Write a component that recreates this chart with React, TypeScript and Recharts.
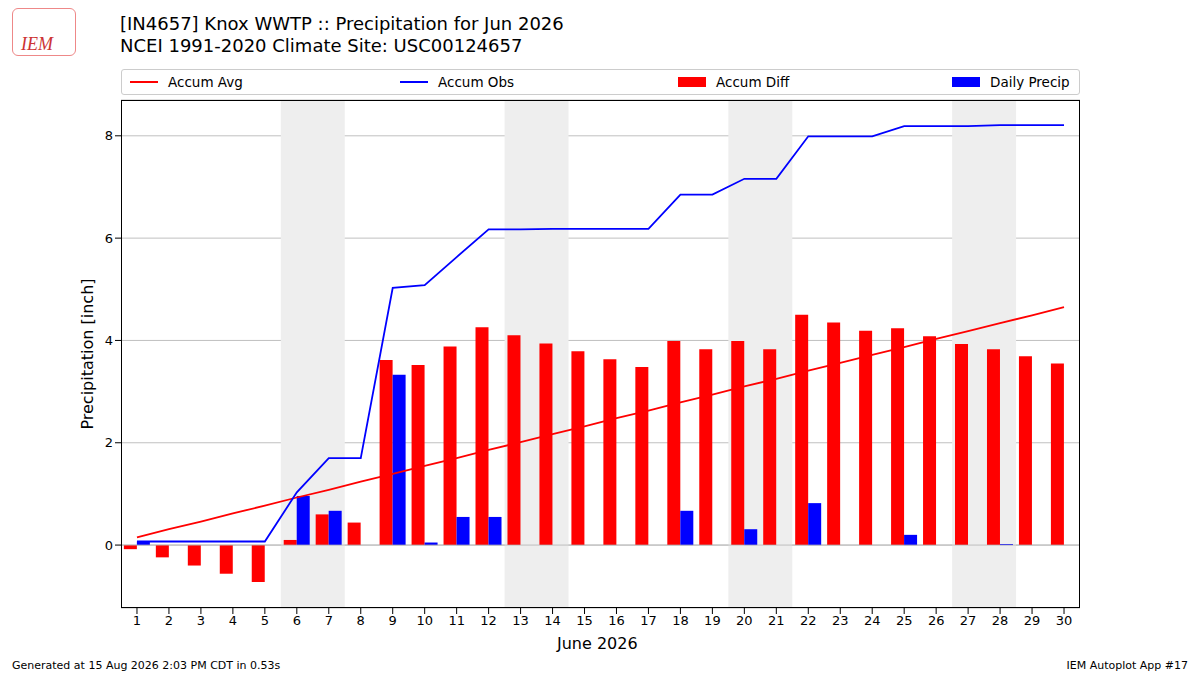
import { ComposedChart, Bar, Line, XAxis, YAxis, CartesianGrid, ReferenceArea, ReferenceLine } from 'recharts';

const days = Array.from({ length: 30 }, (_, i) => i + 1);
const accumAvg = [0.15, 0.31, 0.46, 0.62, 0.77, 0.93, 1.08, 1.24, 1.39, 1.55, 1.70, 1.86, 2.01, 2.17, 2.32, 2.48, 2.63, 2.79, 2.94, 3.10, 3.25, 3.41, 3.56, 3.72, 3.87, 4.03, 4.18, 4.34, 4.49, 4.65];
const accumObs = [0.07, 0.07, 0.07, 0.07, 0.07, 1.03, 1.70, 1.70, 5.03, 5.08, 5.63, 6.17, 6.17, 6.18, 6.18, 6.18, 6.18, 6.85, 6.85, 7.16, 7.16, 7.99, 7.99, 7.99, 8.19, 8.19, 8.19, 8.21, 8.21, 8.21];
const dailyPrecip = [0.07, 0, 0, 0, 0, 0.96, 0.67, 0, 3.33, 0.05, 0.55, 0.55, 0, 0, 0, 0, 0, 0.67, 0, 0.31, 0, 0.82, 0, 0, 0.2, 0, 0, 0.02, 0, 0];
const accumDiff = [-0.08, -0.24, -0.4, -0.56, -0.72, 0.1, 0.6, 0.44, 3.62, 3.52, 3.88, 4.26, 4.1, 3.94, 3.79, 3.63, 3.48, 3.99, 3.83, 3.99, 3.83, 4.5, 4.35, 4.19, 4.24, 4.08, 3.93, 3.83, 3.69, 3.55];
const weekends = [[6, 7], [13, 14], [20, 21], [27, 28]];
const yTicks = [0, 2, 4, 6, 8];

const data = days.map((d, i) => ({
  day: d,
  avg: accumAvg[i],
  obs: accumObs[i],
  diff: accumDiff[i],
  daily: dailyPrecip[i],
}));

const font = 'DejaVu Sans, sans-serif';

export default function App() {
  return (
    <div style={{ position: 'absolute', left: 0, top: 0, width: 1200, height: 675, background: '#fff', fontFamily: font }}>
      <div style={{ position: 'absolute', left: 12, top: 8, width: 64, height: 48, border: '1px solid #e88', borderRadius: 6, color: '#c33', fontFamily: 'serif', fontStyle: 'italic', fontSize: 18, display: 'flex', alignItems: 'flex-end', paddingLeft: 8, boxSizing: 'border-box' }}>IEM</div>
      <div style={{ position: 'absolute', left: 120, top: 13, fontSize: 18, lineHeight: '22px' }}>
        [IN4657] Knox WWTP :: Precipitation for Jun 2026<br />NCEI 1991-2020 Climate Site: USC00124657
      </div>
      <div style={{ position: 'absolute', left: 121, top: 69, width: 959, height: 26, border: '1px solid #ccc', borderRadius: 3, boxSizing: 'border-box', fontSize: 13.5, display: 'flex', alignItems: 'center' }}>
        <span style={{ position: 'absolute', left: 8, display: 'flex', alignItems: 'center' }}><span style={{ width: 28, height: 2, background: 'red', marginRight: 10 }} />Accum Avg</span>
        <span style={{ position: 'absolute', left: 278, display: 'flex', alignItems: 'center' }}><span style={{ width: 28, height: 2, background: 'blue', marginRight: 10 }} />Accum Obs</span>
        <span style={{ position: 'absolute', left: 556, display: 'flex', alignItems: 'center' }}><span style={{ width: 28, height: 10, background: 'red', marginRight: 10 }} />Accum Diff</span>
        <span style={{ position: 'absolute', left: 830, display: 'flex', alignItems: 'center' }}><span style={{ width: 28, height: 10, background: 'blue', marginRight: 10 }} />Daily Precip</span>
      </div>
      <ComposedChart width={1200} height={675} data={data} margin={{ top: 100, right: 120, left: 71, bottom: 37 }} barGap={0} barCategoryGap="9%">
        {weekends.map(([a, b]) => (
          <ReferenceArea key={a} x1={a} x2={b} fill="#eee" fillOpacity={1} stroke="none" ifOverflow="extendDomain" />
        ))}
        <CartesianGrid vertical={false} stroke="#b0b0b0" strokeWidth={0.8} />
        <ReferenceLine y={0} stroke="#b0b0b0" strokeWidth={0.8} />
        <XAxis dataKey="day" type="category" height={30} tick={{ fontSize: 13, fill: '#000', fontFamily: font }} tickLine={{ stroke: '#000' }} axisLine={false} interval={0} />
        <YAxis type="number" domain={[-1.23, 8.7]} ticks={yTicks} width={50} allowDataOverflow tick={{ fontSize: 13, fill: '#000', fontFamily: font }} tickLine={{ stroke: '#000' }} axisLine={false}
          label={{ value: 'Precipitation [inch]', angle: -90, position: 'insideLeft', offset: 0, dx: 16, style: { fontSize: 16, fill: '#000', fontFamily: font, textAnchor: 'middle' } }} />
        <Bar dataKey="diff" fill="red" isAnimationActive={false} />
        <Bar dataKey="daily" fill="blue" isAnimationActive={false} />
        <Line dataKey="avg" stroke="red" strokeWidth={1.8} dot={false} isAnimationActive={false} />
        <Line dataKey="obs" stroke="blue" strokeWidth={1.8} dot={false} isAnimationActive={false} />
      </ComposedChart>
      <div style={{ position: 'absolute', left: 121, top: 100, width: 959, height: 508, border: '1px solid #000', boxSizing: 'border-box', pointerEvents: 'none' }} />
      <div style={{ position: 'absolute', left: 0, width: 1200, top: 634, textAlign: 'center', fontSize: 16 }}><span style={{ position: 'absolute', left: 557 }}>June 2026</span></div>
      <div style={{ position: 'absolute', left: 12, top: 659, fontSize: 11 }}>Generated at 15 Aug 2026 2:03 PM CDT in 0.53s</div>
      <div style={{ position: 'absolute', right: 12, top: 659, fontSize: 11 }}>IEM Autoplot App #17</div>
    </div>
  );
}
